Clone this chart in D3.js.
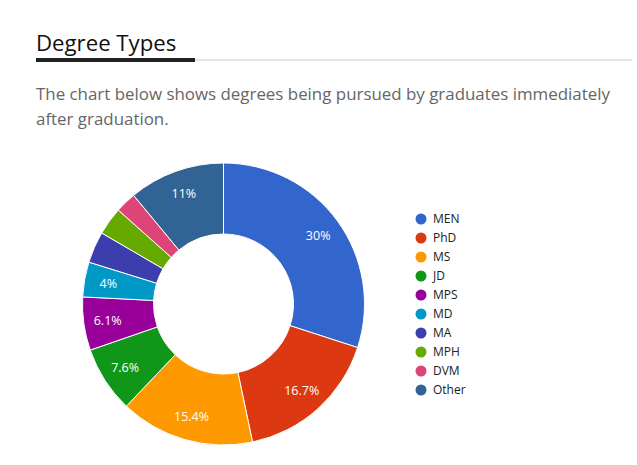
<!DOCTYPE html>
<html>
<head>
<meta charset="utf-8">
<script src="https://cdn.jsdelivr.net/npm/d3@7"></script>
<style>
    body { margin: 0; background: #fff; }
    svg { display: block; }
</style>
</head>
<body>
<div id="chart"></div>
<script>
//== DATA ================================================//
var degrees = ["MEN", "PhD", "MS", "JD", "MPS", "MD", "MA", "MPH", "DVM", "Other"];
var shares = [30, 16.7, 15.4, 7.6, 6.1, 4, 3.6, 3.2, 2.4, 11];
var labels = ["30%", "16.7%", "15.4%", "7.6%", "6.1%", "4%", "", "", "", "11%"];
var colors = ["#3366cc", "#dc3912", "#ff9900", "#109618", "#990099",
    "#0099c6", "#3b3eac", "#66aa00", "#dd4477", "#316395"];

var title = "Degree Types";
var blurb = ["The chart below shows degrees being pursued by graduates immediately",
    "after graduation."];

//== PAGE ================================================//
var width = 637,
    height = 465;

var svg = d3.select("#chart")
    .append("svg")
    .attr("width", width)
    .attr("height", height);

// heading with the thick underline
svg.append("text")
    .attr("x", 36)
    .attr("y", 51)
    .attr("font-family", "Open Sans")
    .attr("font-size", 22.2)
    .attr("fill", "#111")
    .text(title);

svg.append("rect")
    .attr("x", 36).attr("y", 59.5)
    .attr("width", 596).attr("height", 1)
    .attr("fill", "#cccccc");
svg.append("rect")
    .attr("x", 36).attr("y", 58)
    .attr("width", 159).attr("height", 4)
    .attr("fill", "#222");

svg.selectAll(".blurb")
    .data(blurb)
    .enter().append("text")
    .attr("class", "blurb")
    .attr("x", 36)
    .attr("y", function (d, i) { return 100 + i * 25; })
    .attr("font-family", "Open Sans")
    .attr("font-size", 16.9)
    .attr("fill", "#666")
    .text(function (d) { return d; });

//== DONUT ===============================================//
var cx = 223.5, cy = 304,
    rOut = 141, rIn = 70, rLab = 117;

var data = degrees.map(function (d, i) {
    return { name: d, value: shares[i], label: labels[i], color: colors[i] };
});

var pie = d3.pie()
    .sort(null)
    .value(function (d) { return d.value; });

var arc = d3.arc().innerRadius(rIn).outerRadius(rOut);
var labArc = d3.arc().innerRadius(rLab).outerRadius(rLab);

var g = svg.append("g")
    .attr("transform", "translate(" + cx + "," + cy + ")");

var slices = pie(data);

g.selectAll("path")
    .data(slices)
    .enter().append("path")
    .attr("d", arc)
    .attr("fill", function (d) { return d.data.color; })
    .attr("stroke", "#fff")
    .attr("stroke-width", 1);

g.selectAll(".pct")
    .data(slices)
    .enter().append("text")
    .attr("class", "pct")
    .attr("transform", function (d) {
        var c = labArc.centroid(d);
        return "translate(" + c[0] + "," + c[1] + ")";
    })
    .attr("dy", "0.35em")
    .attr("text-anchor", "middle")
    .attr("font-family", "Open Sans")
    .attr("font-size", 12.5)
    .attr("fill", "#fff")
    .text(function (d) { return d.data.label; });

//== LEGEND ==============================================//
var leg = svg.append("g")
    .attr("transform", "translate(421,219)");

var item = leg.selectAll(".item")
    .data(data)
    .enter().append("g")
    .attr("class", "item")
    .attr("transform", function (d, i) { return "translate(0," + i * 19 + ")"; });

item.append("circle")
    .attr("r", 5.5)
    .attr("fill", function (d) { return d.color; });

item.append("text")
    .attr("x", 12)
    .attr("dy", "0.35em")
    .attr("font-family", "Open Sans")
    .attr("font-size", 12)
    .attr("fill", "#222")
    .text(function (d) { return d.name; });
</script>
</body>
</html>
